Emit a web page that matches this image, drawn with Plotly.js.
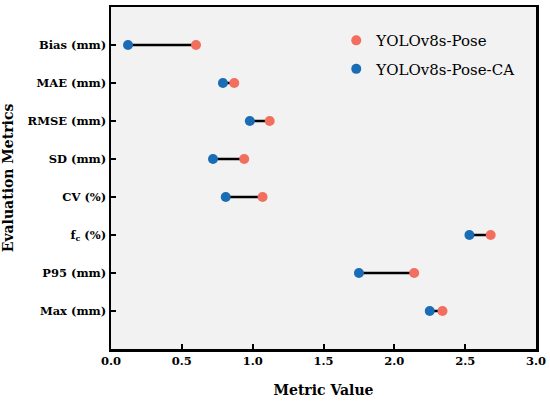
<!DOCTYPE html>
<html>
<head>
<meta charset="utf-8">
<script src="https://cdn.plot.ly/plotly-3.0.1.min.js"></script>
<style>html,body{margin:0;padding:0;background:#fff;}#chart{width:550px;height:405px;}</style>
</head>
<body>
<div id="chart"></div>
<script>
var metrics = ["Bias (mm)", "MAE (mm)", "RMSE (mm)", "SD (mm)", "CV (%)", "f<sub>c</sub> (%)", "P95 (mm)", "Max (mm)"];
var poseValues = [0.60, 0.87, 1.12, 0.94, 1.07, 2.68, 2.14, 2.34];
var poseCAValues = [0.12, 0.79, 0.98, 0.72, 0.81, 2.53, 1.75, 2.25];
var xTicks = [0, 0.5, 1.0, 1.5, 2.0, 2.5, 3.0];
var xTickLabels = ["0.0", "0.5", "1.0", "1.5", "2.0", "2.5", "3.0"];

var redColor = "#F26E5F";
var blueColor = "#1A6DB5";

var lx = [], ly = [];
for (var i = 0; i < metrics.length; i++) {
  lx.push(poseCAValues[i], poseValues[i], null);
  ly.push(metrics[i], metrics[i], null);
}

var traces = [
  {x: lx, y: ly, mode: "lines", line: {color: "#000", width: 2.5}, showlegend: false, hoverinfo: "skip", connectgaps: false},
  {x: poseValues, y: metrics, mode: "markers", name: "YOLOv8s-Pose", legendgroup: "a", marker: {color: redColor, size: 10}},
  {x: poseCAValues, y: metrics, mode: "markers", name: "YOLOv8s-Pose-CA", legendgroup: "b", marker: {color: blueColor, size: 10}}
];

var layout = {
  width: 550, height: 405,
  margin: {l: 111, r: 14, t: 7, b: 56},
  paper_bgcolor: "#fff",
  plot_bgcolor: "#F2F2F2",
  font: {family: "DejaVu Serif", color: "#000", size: 12},
  xaxis: {
    range: [0, 3], tickvals: xTicks, ticktext: xTickLabels.map(function(t){return "<b>" + t + "</b>";}),
    showline: true, mirror: true, linewidth: 2.5, linecolor: "#000",
    ticks: "inside", ticklen: 5, tickwidth: 2, tickcolor: "#000",
    showgrid: false, zeroline: false,
    tickfont: {size: 11.5, color: "#000"},
    title: {text: "<b>Metric Value</b>", font: {size: 14, color: "#000"}, standoff: 18}
  },
  yaxis: {
    type: "category", categoryorder: "array", categoryarray: metrics,
    tickvals: metrics, ticktext: metrics.map(function(t){return "<b>" + t + "</b>";}),
    range: [7.9999, -1],
    showline: true, mirror: true, linewidth: 2.5, linecolor: "#000",
    ticks: "inside", ticklen: 5, tickwidth: 2, tickcolor: "#000",
    showgrid: false, zeroline: false,
    tickfont: {size: 11.5, color: "#000"},
    title: {text: "<b>Evaluation Metrics</b>", font: {size: 14, color: "#000"}, standoff: 12}
  },
  legend: {
    x: 0.53, y: 0.95, xanchor: "left", yanchor: "top",
    bgcolor: "rgba(0,0,0,0)", borderwidth: 0,
    font: {size: 15, color: "#000"},
    itemwidth: 30, traceorder: "grouped", tracegroupgap: 6
  },
  showlegend: true
};

Plotly.newPlot("chart", traces, layout, {displayModeBar: false, staticPlot: true});
</script>
</body>
</html>
